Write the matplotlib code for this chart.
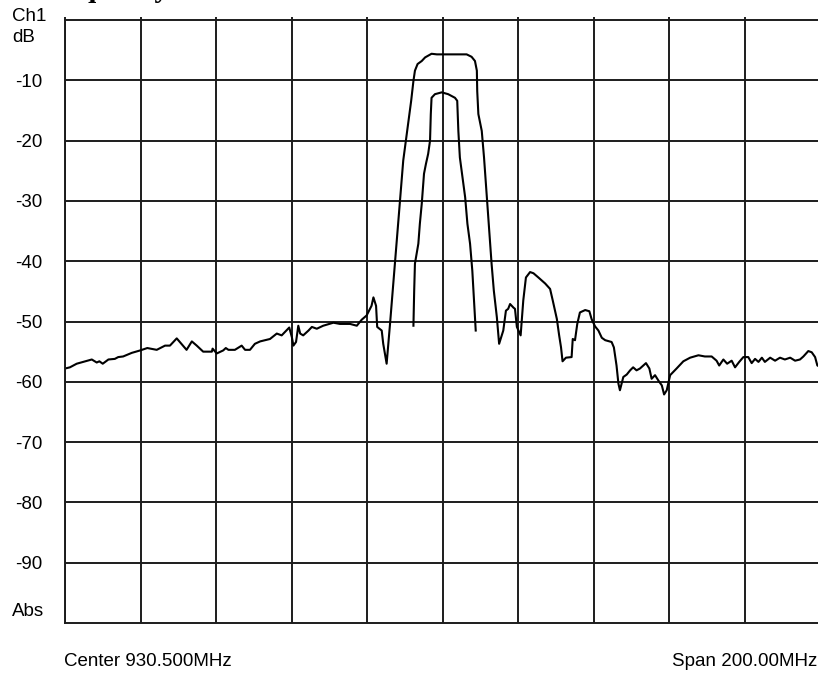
import numpy as np
import matplotlib.pyplot as plt

plt.rcParams['font.family'] = 'sans-serif'
plt.rcParams['font.sans-serif'] = ['Liberation Sans', 'DejaVu Sans']
plt.rcParams['font.size'] = 13.5

# sweep settings
center = 930.5
span = 200.0
ref_top = 0
ref_bottom = -100

ytick_vals = [-90, -80, -70, -60, -50, -40, -30, -20, -10]
ytick_text = ['-90', '-80', '-70', '-60', '-50', '-40', '-30', '-20', '-10']

# wide trace (MHz, dB)
main_freq = [830.5, 831.8, 833.6, 837.6, 838.9, 839.6, 840.5, 842.0, 843.7, 844.6,
             845.9, 848.2, 850.4, 852.3, 854.8, 857.0, 858.3, 860.1, 862.7, 864.1,
             865.4, 867.1, 869.4, 869.6, 870.7, 872.4, 873.1, 873.8, 875.5, 877.3,
             878.2, 879.5, 880.8, 882.2, 884.8, 886.6, 887.9, 889.9, 890.6, 891.0,
             891.7, 892.3, 892.8, 893.6, 895.0, 895.9, 897.2, 898.9, 901.6, 903.3,
             906.0, 907.8, 909.1, 910.4, 911.7, 912.2, 912.9, 913.2, 914.4, 914.8,
             915.7, 916.6, 917.9, 919.2, 920.1, 920.8, 921.4, 922.2, 922.8, 923.2,
             923.9, 925.0, 925.9, 927.6, 929.0, 936.9, 938.2, 939.1, 939.6, 939.7,
             940.0, 940.9, 941.5, 942.2, 942.9, 943.5, 944.1, 944.9, 945.5, 946.6,
             947.3, 947.9, 948.4, 949.3, 949.7, 950.2, 951.2, 951.9, 952.6, 953.7,
             954.6, 955.9, 957.7, 959.0, 959.7, 960.8, 961.4, 961.9, 962.3, 963.2,
             964.7, 965.0, 965.6, 966.2, 966.9, 968.3, 969.4, 970.0, 970.9, 971.8,
             972.7, 973.6, 975.3, 975.9, 976.6, 977.1, 977.5, 978.4, 979.3, 980.2,
             981.0, 981.9, 982.8, 983.7, 984.4, 985.3, 985.9, 986.8, 987.7, 988.6,
             989.2, 989.9, 990.8, 992.5, 994.3, 996.1, 998.3, 1000.0, 1001.8, 1003.1,
             1003.8, 1004.9, 1005.9, 1007.1, 1008.0, 1009.1, 1010.2, 1011.5, 1012.4, 1013.3,
             1014.2, 1015.1, 1015.9, 1017.3, 1018.6, 1019.9, 1021.2, 1022.6, 1023.9, 1025.2,
             1026.1, 1027.4, 1028.3, 1029.2, 1029.8, 1030.5]
main_db = [-57.8, -57.6, -57.0, -56.3, -56.8, -56.6, -57.0, -56.3, -56.2, -55.9,
           -55.8, -55.2, -54.8, -54.4, -54.7, -54.0, -54.0, -52.8, -54.7, -53.3,
           -54.0, -55.0, -55.0, -54.5, -55.3, -54.8, -54.4, -54.7, -54.7, -54.0,
           -54.7, -54.7, -53.7, -53.3, -52.9, -52.0, -52.3, -51.0, -52.6, -54.0,
           -53.4, -50.7, -52.0, -52.3, -51.5, -50.9, -51.2, -50.7, -50.2, -50.4,
           -50.4, -50.7, -49.7, -49.0, -47.4, -46.0, -47.4, -50.9, -51.5, -53.7,
           -57.0, -50.4, -40.4, -30.5, -23.3, -20.0, -17.3, -13.4, -10.1, -8.4,
           -7.3, -6.8, -6.2, -5.6, -5.7, -5.7, -6.1, -6.8, -8.4, -11.8,
           -15.6, -18.4, -22.8, -28.9, -34.9, -40.4, -44.9, -49.3, -53.7, -51.5,
           -48.2, -47.9, -47.1, -47.7, -47.9, -50.9, -52.3, -46.5, -42.7, -41.8,
           -42.0, -42.7, -43.7, -44.6, -46.5, -49.6, -52.3, -54.3, -56.6, -56.0,
           -55.9, -52.9, -53.1, -50.4, -48.5, -48.1, -48.3, -49.6, -50.8, -51.5,
           -52.7, -53.1, -53.4, -54.3, -57.3, -60.3, -61.4, -59.2, -58.8, -58.1,
           -57.6, -58.1, -57.8, -57.3, -56.9, -57.8, -59.5, -58.9, -59.8, -60.6,
           -62.1, -61.4, -58.9, -57.8, -56.6, -56.0, -55.6, -55.8, -55.8, -56.5,
           -57.3, -56.3, -57.0, -56.5, -57.6, -56.7, -55.9, -55.9, -56.9, -56.2,
           -56.7, -56.0, -56.7, -56.0, -56.5, -56.0, -56.3, -56.0, -56.5, -56.3,
           -55.8, -54.9, -55.1, -55.9, -57.3, -57.5]

# narrow trace
inner_freq = [922.8, 923.0, 923.2, 924.1, 924.5, 925.0, 925.6, 926.1, 926.7, 927.2,
              927.4, 927.6, 928.5, 930.3, 932.0, 933.8, 934.4, 934.7, 935.1, 935.8,
              936.5, 937.1, 937.8, 938.4, 938.8, 939.1, 939.3]
inner_db = [-50.7, -44.9, -40.4, -37.1, -33.8, -30.5, -25.5, -23.9, -22.2, -20.0,
            -15.6, -12.9, -12.3, -12.0, -12.3, -12.9, -13.4, -18.4, -22.8, -26.1,
            -29.4, -33.8, -37.1, -41.6, -46.0, -49.3, -51.5]

W, H = 818, 673
fig = plt.figure(figsize=(W / 100, H / 100), dpi=100)
ax = fig.add_axes([65 / W, 50 / H, 755 / W, 603 / H])

gc = '#1c1c1c'
ax.plot(main_freq, main_db, color='black', lw=1.5)
ax.plot(inner_freq, inner_db, color='black', lw=1.5)

ax.set_xlim(center - span / 2, center + span / 2)
ax.set_ylim(ref_bottom, ref_top)
ax.set_xticks(np.arange(center - span / 2, center + span / 2 + 1, span / 10))
ax.set_yticks(ytick_vals)
ax.set_yticklabels(ytick_text)
ax.grid(True, color=gc, lw=1.4)
ax.tick_params(axis='y', length=0, pad=16.5)
ax.tick_params(axis='x', bottom=False, top=True, direction='out', length=2,
               width=1.4, color=gc, labelbottom=False)
for s in ax.spines.values():
    s.set_color(gc)
    s.set_linewidth(1.4)

def px(x, y):
    return x / W, 1 - y / H

fig.text(*px(12, 16.5), 'Ch1', va='center', ha='left')
fig.text(*px(12, 37.5), 'dB', va='center', ha='left')
fig.text(*px(12, 611), 'Abs', va='center', ha='left')
fig.text(*px(64, 661), 'Center 930.500MHz', va='center', ha='left')
fig.text(*px(817, 661), 'Span 200.00MHz', va='center', ha='right')

# title above the frame, only the descenders show
fig.text(38 / W, 1 + 3 / H, 'Frequency', family='Liberation Serif',
         weight='bold', fontsize=21, va='baseline', ha='left')

fig.savefig('out.png', dpi=100)
